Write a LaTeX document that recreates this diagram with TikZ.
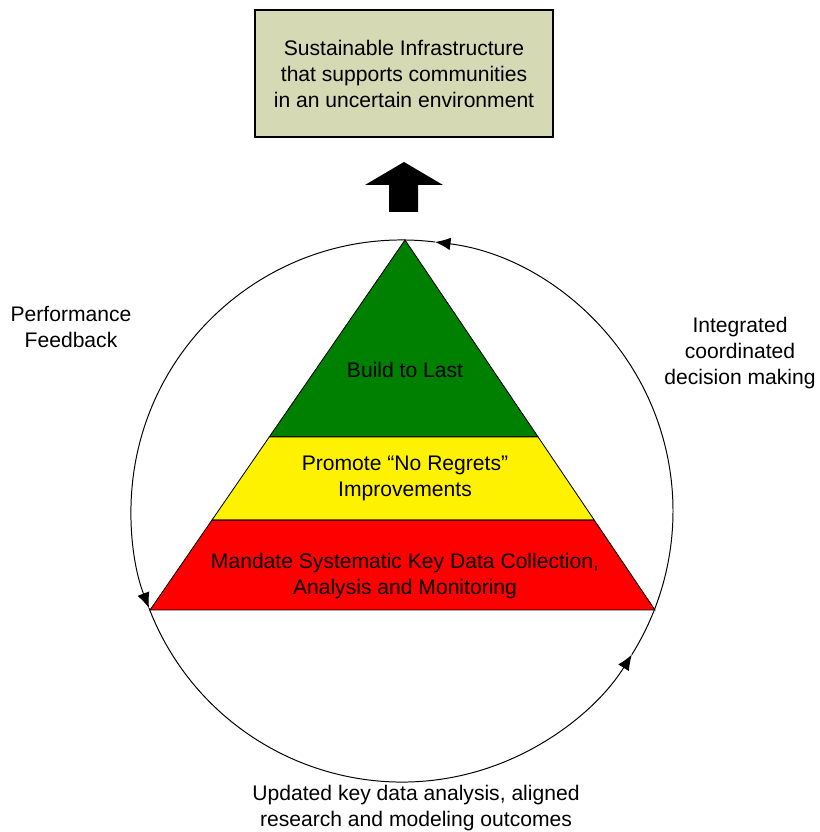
\documentclass[tikz,border=0pt]{standalone}
\usepackage{fontspec}
\setmainfont{Liberation Sans}
\usetikzlibrary{arrows.meta, calc}
\definecolor{goalfill}{RGB}{213,217,180}
\definecolor{tgreen}{RGB}{0,128,0}

\begin{document}
\begin{tikzpicture}[x=0.025cm, y=0.025cm,
  lbl/.style={align=center, font=\fontsize{15}{18.5}\selectfont},
  band/.style={draw=black, line width=0.6pt},
  cyc/.style={line width=0.7pt, -{Latex[length=11pt,width=9pt]}}
]
\useasboundingbox (0,0) rectangle (819,832);

% goal box and the block arrow under it
\node[lbl, draw, line width=1.2pt, fill=goalfill,
      minimum width=7.45cm, minimum height=3.175cm] (goal) at (404,758.5)
    {Sustainable Infrastructure\\that supports communities\\in an uncertain environment};
\fill (389,620) -- (418,620) -- (418,647) -- (443,647) -- (404,670)
      -- (365,647) -- (389,647) -- cycle;

% pyramid
\coordinate (apex) at (405,592);
\coordinate (bl) at (150,222);
\coordinate (br) at (655,222);
\coordinate (g1) at ($(apex)!0.532!(bl)$);
\coordinate (g2) at ($(apex)!0.532!(br)$);
\coordinate (y1) at ($(apex)!0.757!(bl)$);
\coordinate (y2) at ($(apex)!0.757!(br)$);
\draw[band, fill=tgreen] (apex) -- (g2) -- (g1) -- cycle;
\draw[band, fill=yellow] (g1) -- (g2) -- (y2) -- (y1) -- cycle;
\draw[band, fill=red] (y1) -- (y2) -- (br) -- (bl) -- cycle;

\node[lbl] (last) at (405,462) {Build to Last};
\node[lbl] (noreg) at (405,354) {Promote “No Regrets”\\Improvements};
\node[lbl] (mandate) at (405,256)
    {Mandate Systematic Key Data Collection,\\Analysis and Monitoring};

% feedback cycle round the pyramid
\coordinate (c) at (402,321);
\draw[cyc] ($(c)+(-32:271)$) arc[start angle=-32, end angle=83, radius=271];
\draw[cyc] ($(c)+(83:271)$) arc[start angle=83, end angle=201, radius=271];
\draw[cyc] ($(c)+(201:271)$) arc[start angle=201, end angle=328, radius=271];

\node[lbl] (perf) at (71,505) {Performance\\Feedback};
\node[lbl] (integ) at (740,479) {Integrated\\coordinated\\decision making};
\node[lbl] (upd) at (416,24)
    {Updated key data analysis, aligned\\research and modeling outcomes};
\end{tikzpicture}
\end{document}
